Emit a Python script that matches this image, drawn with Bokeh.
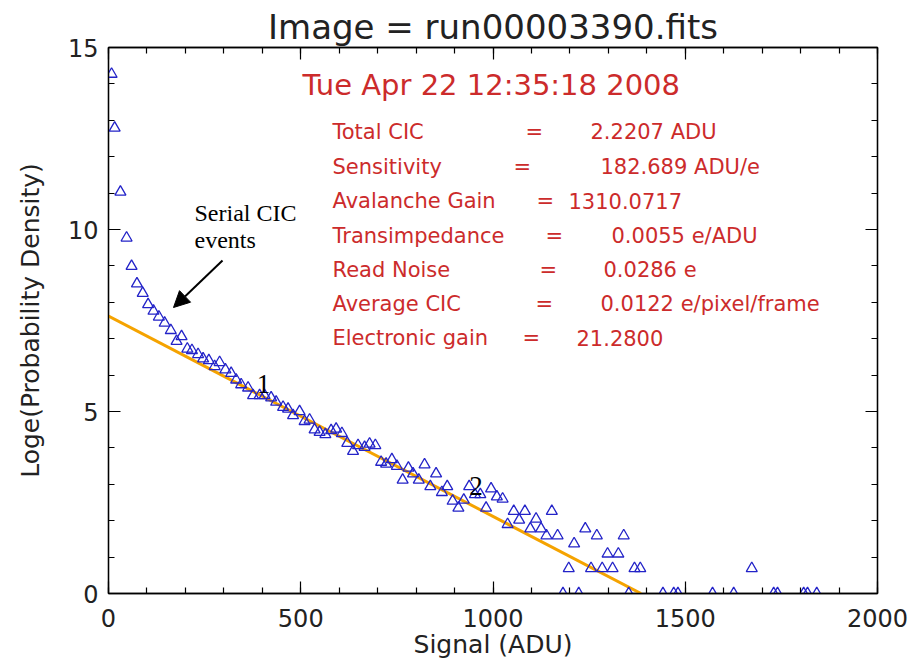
from bokeh.plotting import figure
from bokeh.models import (ColumnDataSource, FixedTicker, LinearAxis, Range1d,
                          Arrow, NormalHead, CustomLabelingPolicy)
from bokeh.core.properties import value
from bokeh.embed import file_html
from bokeh.resources import INLINE

# ---------------- data ----------------
signal_adu = [8, 16, 31, 47, 60, 74, 89, 103, 117, 131, 146, 162, 177, 190, 205, 217,
              233, 246, 261, 276, 289, 304, 319, 332, 345, 363, 376, 393, 406, 423, 436,
              454, 467, 480, 497, 510, 523, 536, 549, 564, 579, 592, 607, 621, 636, 649,
              666, 679, 694, 709, 722, 737, 750, 765, 780, 792, 807, 822, 837, 852, 867,
              881, 895, 910, 924, 938, 953, 967, 982, 995, 1010, 1025, 1038, 1054, 1068,
              1083, 1097, 1112, 1125, 1139, 1153, 1168, 1182, 1197, 1211, 1223, 1240,
              1255, 1270, 1284, 1298, 1311, 1326, 1340, 1353, 1368, 1383, 1442, 1470,
              1481, 1571, 1626, 1673, 1730, 1740, 1808, 1818, 1842]
log_density = [14.27, 12.79, 11.03, 9.77, 8.99, 8.51, 8.25, 7.94, 7.76, 7.60, 7.43, 7.23,
               6.93, 7.06, 6.72, 6.68, 6.57, 6.45, 6.40, 6.24, 6.35, 6.15, 6.05, 5.87,
               5.74, 5.65, 5.44, 5.44, 5.44, 5.38, 5.26, 5.12, 5.07, 4.89, 5.00, 4.73,
               4.77, 4.50, 4.43, 4.37, 4.48, 4.52, 4.40, 4.13, 3.91, 4.07, 4.02, 4.11,
               4.07, 3.61, 3.56, 3.68, 3.50, 3.12, 3.45, 3.29, 3.12, 3.54, 2.94, 3.29,
               2.78, 2.94, 2.54, 2.35, 2.57, 2.94, 2.72, 2.72, 2.35, 2.88, 2.66, 2.60,
               1.90, 2.26, 2.02, 2.26, 1.78, 2.05, 1.78, 1.59, 2.26, 1.59, 0.0, 0.69,
               1.37, 0.0, 1.78, 0.69, 1.59, 0.69, 1.09, 0.69, 1.09, 1.59, 0.0, 0.69,
               0.69, 0.0, 0.0, 0.0, 0.0, 0.0, 0.69, 0.0, 0.0, 0.0, 0.0, 0.0]

fit_x = [0, 1385]
fit_y = [7.62, 0.0]

x_major = [0, 500, 1000, 1500, 2000]
x_minor = list(range(0, 2001, 100))
y_major = [0, 5, 10, 15]
y_minor = list(range(0, 16))

title_text = "Image = run00003390.fits"
date_text = "Tue Apr 22 12:35:18 2008"
info_names = ["Total CIC", "Sensitivity", "Avalanche Gain", "Transimpedance",
              "Read Noise", "Average CIC", "Electronic gain"]
info_values = ["2.2207 ADU", "182.689 ADU/e", "1310.0717", "0.0055 e/ADU",
               "0.0286 e", "0.0122 e/pixel/frame", "21.2800"]

# ---------------- layout helpers (pixel -> data) ----------------
FL, FR, FT, FB = 108, 877, 47, 593
def dx(px):
    return (px - FL) / (FR - FL) * 2000.0
def dy(py):
    return (FB - py) / (FB - FT) * 15.0

FONT = "DejaVu Sans"
RED = "#cc2b2b"

p = figure(width=912, height=665, output_backend="svg", toolbar_location=None,
           x_range=Range1d(0, 2000), y_range=Range1d(0, 15),
           min_border_left=FL, min_border_right=912 - FR,
           min_border_top=FT, min_border_bottom=665 - FB,
           x_axis_label="Signal (ADU)", y_axis_label="Loge(Probability Density)")
p.background_fill_color = "white"
p.border_fill_color = "white"
p.outline_line_color = "black"
p.outline_line_width = 1.3
p.grid.visible = False

p.title.text = title_text
p.title.align = "center"
p.title.text_font = FONT
p.title.text_font_size = "34px"
p.title.text_font_style = "normal"
p.title.text_color = "#222222"
p.title.standoff = 2

hide_labels = CustomLabelingPolicy(code="""
const n = indices.size;
for (let i = 0; i < n; i++) {
  if (typeof indices.unset === "function") { indices.unset(i) } else { indices.set(i, false) }
}
return indices;
""")

def style_axis(ax, ticks, minor, labels=True):
    ax.ticker = FixedTicker(ticks=ticks, minor_ticks=minor)
    ax.major_tick_in = 12
    ax.major_tick_out = 0
    ax.minor_tick_in = 6
    ax.minor_tick_out = 0
    ax.axis_line_color = "black"
    ax.axis_line_width = 1.3
    ax.major_tick_line_color = "black"
    ax.minor_tick_line_color = "black"
    ax.major_tick_line_width = 1.2
    ax.minor_tick_line_width = 1.2
    if labels:
        ax.major_label_text_font = FONT
        ax.major_label_text_font_size = "24px"
        ax.major_label_text_color = "#222222"
        ax.axis_label_text_font = FONT
        ax.axis_label_text_font_size = "25px"
        ax.axis_label_text_font_style = "normal"
        ax.axis_label_text_color = "#222222"
    else:
        ax.major_label_policy = hide_labels
        ax.major_label_text_font_size = "0px"
        ax.major_label_standoff = 0

style_axis(p.xaxis[0], x_major, x_minor)
style_axis(p.yaxis[0], y_major, y_minor)
p.xaxis[0].major_label_standoff = 15
p.xaxis[0].axis_label_standoff = 0
p.yaxis[0].major_label_standoff = 10
p.yaxis[0].axis_label_standoff = 20

top_ax = LinearAxis()
style_axis(top_ax, x_major, x_minor, labels=False)
p.add_layout(top_ax, "above")
right_ax = LinearAxis()
style_axis(right_ax, y_major, y_minor, labels=False)
p.add_layout(right_ax, "right")

# fit line
p.line(fit_x, fit_y, line_color="#f5a300", line_width=3)

# data points
src = ColumnDataSource(dict(x=signal_adu, y=log_density))
p.scatter("x", "y", source=src, marker="triangle", size=11,
          fill_color=None, line_color="#2323c8", line_width=1.3)

# red info block
p.text(x=[dx(302)], y=[dy(84)], text=[date_text], text_font=value(FONT),
       text_font_size=value("29px"), text_color=RED, text_baseline="middle",
       text_align="left")
row_py = [131, 166, 200, 235, 269, 303, 337]
eq_px = [525, 513, 536, 545, 539, 535, 522]
val_px = [590, 600, 568, 611, 603, 600, 576]
p.text(x=[dx(332)] * len(info_names), y=[dy(v) for v in row_py], text=info_names,
       text_font=value(FONT), text_font_size=value("21px"), text_color=RED,
       text_baseline="middle", text_align="left")
p.text(x=[dx(v) for v in eq_px], y=[dy(v) for v in row_py], text=["="] * len(info_names),
       text_font=value(FONT), text_font_size=value("21px"), text_color=RED,
       text_baseline="middle", text_align="left")
p.text(x=[dx(v) for v in val_px], y=[dy(v) for v in row_py], text=info_values,
       text_font=value(FONT), text_font_size=value("21px"), text_color=RED,
       text_baseline="middle", text_align="left")

# black annotations
p.text(x=[dx(194), dx(194)], y=[dy(212), dy(239)], text=["Serial CIC", "events"],
       text_font=value("Liberation Serif"), text_font_size=value("24px"),
       text_color="black", text_baseline="middle", text_align="left")
p.text(x=[403, 956], y=[5.75, 2.95], text=["1", "2"],
       text_font=value("Liberation Serif"), text_font_size=value("27px"),
       text_color="black", text_baseline="middle", text_align="center")
p.add_layout(Arrow(end=NormalHead(size=16, fill_color="black", line_color="black"),
                   x_start=dx(222), y_start=dy(260), x_end=dx(173), y_end=dy(307),
                   line_color="black", line_width=2))

open("out.html", "w").write(file_html(p, INLINE))
